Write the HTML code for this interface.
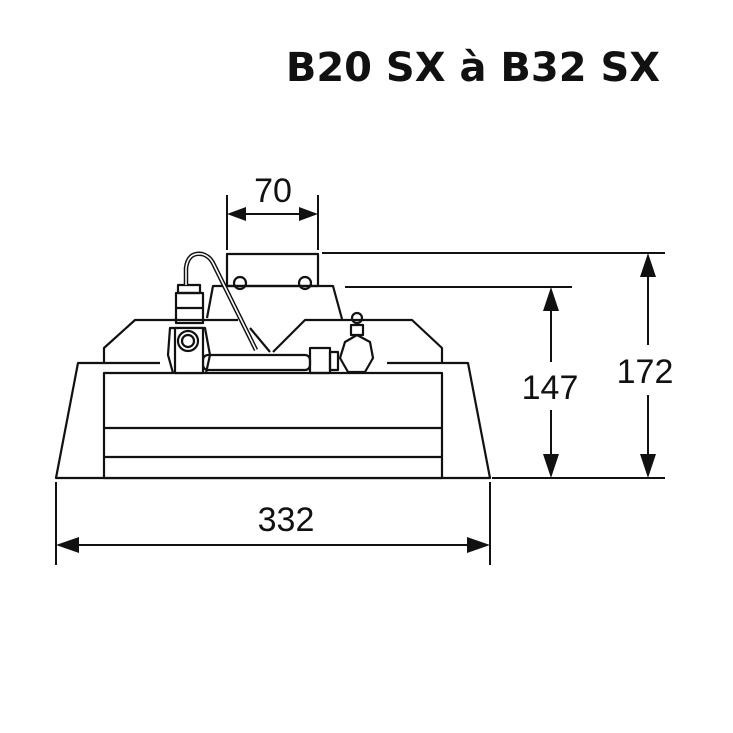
<!DOCTYPE html>
<html><head><meta charset="utf-8"><style>
html,body{margin:0;padding:0;background:#fff;}
svg{display:block}
text{font-family:"Liberation Sans",Arial,sans-serif;fill:#111}
</style></head><body>
<svg width="733" height="733" viewBox="0 0 733 733" xmlns="http://www.w3.org/2000/svg">
<text x="473" y="81" text-anchor="middle" style="font-weight:bold;font-size:40px;font-family:'DejaVu Sans','Liberation Sans',sans-serif">B20 SX à B32 SX</text>
<g stroke="#111" stroke-width="2.2" fill="none" stroke-linejoin="round">
<!-- outer trapezoid -->
<polyline points="160,363 78,363 56,478 490,478 468,363 387,363"/>
<rect x="104" y="373" width="338" height="105" fill="#fff"/>
<line x1="104" y1="428" x2="442" y2="428"/>
<line x1="104" y1="457" x2="442" y2="457"/>
<!-- housing -->
<polyline points="104,362 104,348 135,320 238,320"/>
<polyline points="273,352 305,320 412,320 442,348 442,362"/>
<!-- central trapezoid -->
<polyline points="207,318 213,286 333,286 342,319"/>
<line x1="250" y1="328" x2="270" y2="352"/>
<!-- top rect -->
<rect x="227" y="254" width="91" height="32"/>
<circle cx="240" cy="283" r="6"/>
<circle cx="305" cy="283" r="6"/>
<!-- pipe -->
<rect x="203" y="355" width="107" height="15" rx="5"/>
<rect x="310" y="348" width="20" height="25"/>
<rect x="330" y="352" width="8" height="18"/>
<polygon points="345,342 357,335 370,342 373,358 365,372 348,372 340,358" fill="#fff"/>
<rect x="351" y="325" width="12" height="10"/>
<circle cx="357" cy="318" r="5"/>
<!-- valve -->
<path d="M173,373 L168,355 L170,328 L205,328 L210,355 L206,373"/>
<rect x="175" y="328" width="28" height="45" fill="#fff"/>
<circle cx="188" cy="341" r="10"/>
<circle cx="188" cy="341" r="6"/>
<rect x="176" y="293" width="27" height="30"/>
<rect x="178" y="285" width="22" height="8"/>
<line x1="176" y1="308" x2="203" y2="308"/>
<!-- cable -->
<path d="M186,285 L186,268 Q188,252 202,254 Q210,256 214,265 L256,350" stroke-width="4.5"/>
<path d="M186,285 L186,268 Q188,252 202,254 Q210,256 214,265 L256,350" stroke="#fff" stroke-width="1.6"/>
</g>
<g stroke="#111" stroke-width="2">
<!-- 70 -->
<line x1="227" y1="195" x2="227" y2="250"/>
<line x1="318" y1="195" x2="318" y2="250"/>
<line x1="235" y1="214" x2="310" y2="214"/>
<!-- 172/147 -->
<line x1="322" y1="253" x2="665" y2="253"/>
<line x1="345" y1="287" x2="572" y2="287"/>
<line x1="492" y1="478" x2="665" y2="478"/>
<line x1="648" y1="270" x2="648" y2="345"/>
<line x1="648" y1="395" x2="648" y2="460"/>
<line x1="551" y1="305" x2="551" y2="362"/>
<line x1="551" y1="410" x2="551" y2="460"/>
<!-- 332 -->
<line x1="56" y1="482" x2="56" y2="565"/>
<line x1="490" y1="482" x2="490" y2="565"/>
<line x1="70" y1="545" x2="476" y2="545"/>
</g>
<g fill="#111">
<polygon points="227,214 246,207 246,221"/>
<polygon points="318,214 299,207 299,221"/>
<polygon points="648,253 640,277 656,277"/>
<polygon points="648,478 640,454 656,454"/>
<polygon points="551,287 543,311 559,311"/>
<polygon points="551,478 543,454 559,454"/>
<polygon points="56,545 79,537 79,553"/>
<polygon points="490,545 467,537 467,553"/>
</g>
<text x="273" y="202" text-anchor="middle" font-size="34">70</text>
<text x="645" y="383" text-anchor="middle" font-size="34">172</text>
<text x="550" y="399" text-anchor="middle" font-size="34">147</text>
<text x="286" y="531" text-anchor="middle" font-size="34">332</text>
</svg>
</body></html>
